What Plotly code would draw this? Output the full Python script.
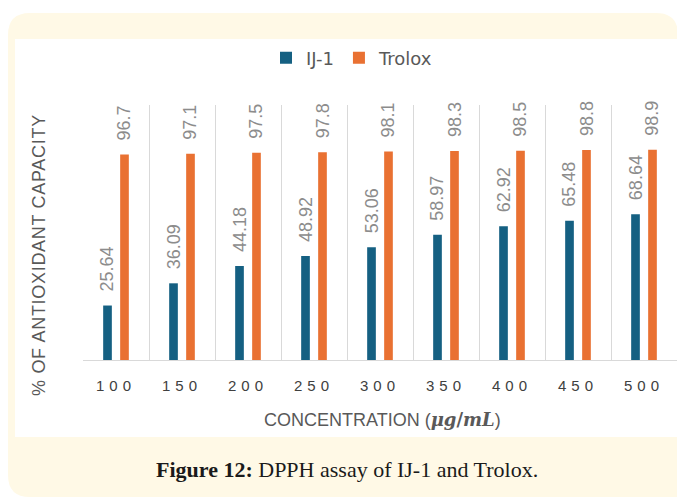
import plotly.graph_objects as go

# ---- data ----
categories = ["100", "150", "200", "250", "300", "350", "400", "450", "500"]
ij1_values = [25.64, 36.09, 44.18, 48.92, 53.06, 58.97, 62.92, 65.48, 68.64]
trolox_values = [96.7, 97.1, 97.5, 97.8, 98.1, 98.3, 98.5, 98.8, 98.9]
series_names = ["IJ-1", "Trolox"]
series_values = [ij1_values, trolox_values]
colors = ["#156082", "#E97132"]
y_title = "% OF ANTIOXIDANT CAPACITY"
x_title_main = "CONCENTRATION ("
x_title_unit = ("<span style=\"font-family:'DejaVu Serif'\"><b><i>\u03bcg</i>/<i>mL</i></b></span>")
caption_bold = "Figure 12:"
caption_rest = "DPPH assay of IJ-1 and Trolox."

# ---- geometry ----
W, H = 677, 497
ML, MR, MT, MB = 83, 0, 105, 137
PW, PH = W - ML - MR, H - MT - MB
BARGAP, GROUPGAP = 0.485, 0.49


def px(x):
    return (x - ML) / PW


def py(y):
    return (H - MB - y) / PH


cat_w = PW / len(categories)
slot = cat_w * (1 - BARGAP) / len(series_names)
offsets = [(i - (len(series_names) - 1) / 2) * slot for i in range(len(series_names))]

fig = go.Figure()
for name, vals, col in zip(series_names, series_values, colors):
    fig.add_trace(go.Bar(x=categories, y=vals, name=name, marker=dict(color=col, line=dict(width=0))))

annotations = []
for s, vals in enumerate(series_values):
    for ci, v in enumerate(vals):
        annotations.append(dict(
            x=ci, y=v, xref="x", yref="y", text=str(v), textangle=-90, showarrow=False,
            xshift=offsets[s], yshift=12, xanchor="center", yanchor="bottom",
            font=dict(family="Liberation Sans", size=18, color="#8c8c8c")))

annotations.append(dict(
    x=px(39), y=py(255), xref="paper", yref="paper", text=f'<span style="letter-spacing:0.7px">{y_title}</span>',
    textangle=-90, showarrow=False, xanchor="center", yanchor="middle",
    font=dict(family="Liberation Sans", size=18, color="#595959")))
annotations.append(dict(
    x=px(382), y=py(419), xref="paper", yref="paper", text=x_title_main + x_title_unit + ")",
    showarrow=False, xanchor="center", yanchor="middle",
    font=dict(family="Liberation Sans", size=18, color="#595959")))
annotations.append(dict(
    x=px(346.5), y=py(469), xref="paper", yref="paper",
    text=f"<b>{caption_bold}</b> {caption_rest}",
    showarrow=False, xanchor="center", yanchor="middle",
    font=dict(family="Liberation Serif", size=22, color="#1a1a1a")))

# background panels
r = 22
L, T, R, B = 8, 13, 678, 497
path = (f"M {px(L + r)} {py(T)} L {px(R - r)} {py(T)} Q {px(R)} {py(T)} {px(R)} {py(T + r)} "
        f"L {px(R)} {py(B + 5)} L {px(L + r)} {py(B + 5)} L {px(L + r)} {py(B)} "
        f"Q {px(L)} {py(B)} {px(L)} {py(B - r)} L {px(L)} {py(T + r)} Q {px(L)} {py(T)} {px(L + r)} {py(T)} Z")
shapes = [
    dict(type="path", xref="paper", yref="paper", path=path, fillcolor="#FFF9E6",
         line=dict(width=0), layer="below"),
    dict(type="rect", xref="paper", yref="paper", x0=px(15), x1=px(680), y0=py(437), y1=py(39),
         fillcolor="white", line=dict(width=0), layer="below"),
]

fig.update_layout(
    width=W, height=H,
    margin=dict(l=ML, r=MR, t=MT, b=MB, pad=0),
    paper_bgcolor="white", plot_bgcolor="white",
    barmode="group", bargap=BARGAP, bargroupgap=GROUPGAP,
    font=dict(family="Liberation Sans", color="#595959"),
    showlegend=True,
    legend=dict(orientation="h", x=px(352), xanchor="center", y=py(58), yanchor="middle",
                font=dict(family="DejaVu Sans", size=18, color="#595959"),
                bgcolor="rgba(0,0,0,0)", traceorder="normal"),
    annotations=annotations,
    shapes=shapes,
    xaxis=dict(type="category", range=[-0.5, len(categories) - 0.5], autorange=False,
               tickson="boundaries", showgrid=True, gridcolor="#d9d9d9", gridwidth=1,
               showline=True, linecolor="#d9d9d9", linewidth=1, ticks="",
               tickvals=categories, tickangle=0,
               ticktext=[f'<span style="letter-spacing:5px">{c}</span>' for c in categories],
               tickfont=dict(family="Liberation Sans", size=15, color="#404040"),
               ticklabelstandoff=12, zeroline=False),
    yaxis=dict(range=[0, 120], showgrid=False, showticklabels=False, zeroline=False,
               showline=False, ticks=""),
)

fig.write_html("out.html")
